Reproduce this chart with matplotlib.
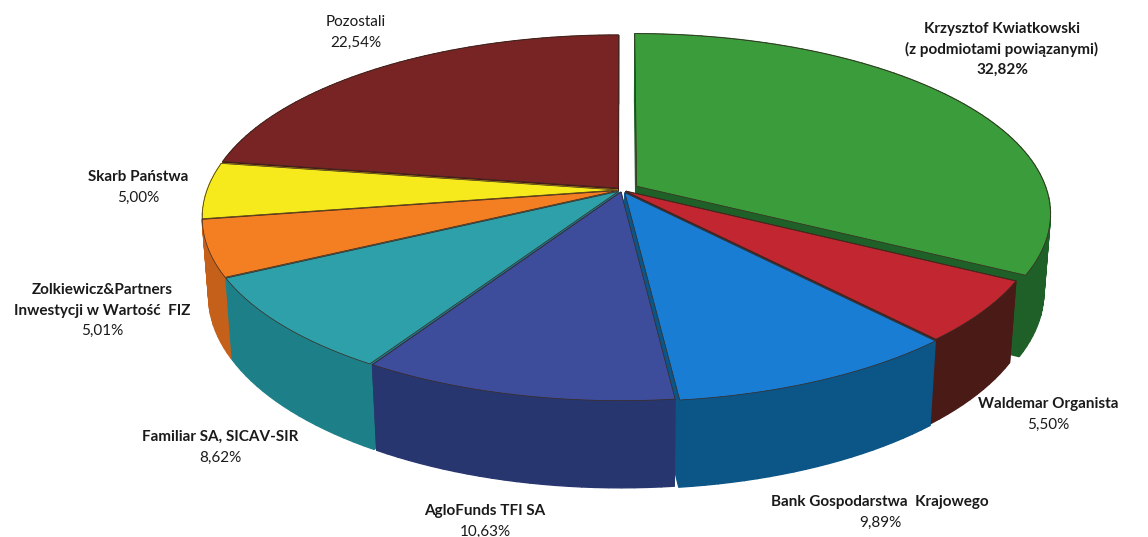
import matplotlib
matplotlib.use("Agg")
import matplotlib.pyplot as plt
import numpy as np
from matplotlib.patches import Polygon

# shareholder structure
names = [
    ["Krzysztof Kwiatkowski", "(z podmiotami powiązanymi)"],
    ["Waldemar Organista"],
    ["Bank Gospodarstwa  Krajowego"],
    ["AgloFunds TFI SA"],
    ["Familiar SA, SICAV-SIR"],
    ["Zolkiewicz&Partners", "Inwestycji w Wartość  FIZ"],
    ["Skarb Państwa"],
    ["Pozostali"],
]
shares = [32.82, 5.50, 9.89, 10.63, 8.62, 5.01, 5.00, 22.54]
pct_labels = ["32,82%", "5,50%", "9,89%", "10,63%", "8,62%", "5,01%", "5,00%", "22,54%"]

top_colors = ["#3b9c3b", "#c22630", "#1a7dd4", "#3d4d9c", "#2ea0aa", "#f47e22", "#f6ea1c", "#792424"]
side_colors = ["#1f5f28", "#4a1a17", "#0b5587", "#283670", "#1d8088", "#c5601a", "#c8b812", "#4e1616"]
explode = [0.042, 0.012, 0.017, 0.012, 0.012, 0.012, 0.012, 0.015]

# label placement: centre of first line in pixels (x, y from top)
label_pos = [(1002, 29), (1048, 404), (880, 502), (485, 511), (220, 437), (102, 290), (138, 177), (356, 22)]
name_bold = [True, True, True, True, True, True, True, False]
LINE_PX = 20.5

W, H = 1148, 537
CX, CY = 622, 190      # pie centre in pixels
SCALE = 410            # pixels per unit radius
ELEV = np.radians(25.5)
DIST = 6.0
DEPTH_H = 0.212


def proj(X, Y, Z):
    d = DIST + Y * np.cos(ELEV) - Z * np.sin(ELEV)
    sx = X * DIST / d
    sy = (Y * np.sin(ELEV) + Z * np.cos(ELEV)) * DIST / d
    return sx, sy, d


fig = plt.figure(figsize=(W / 100, H / 100), dpi=100)
ax = fig.add_axes([0, 0, 1, 1])
ax.set_xlim(-CX / SCALE, (W - CX) / SCALE)
ax.set_ylim(-(H - CY) / SCALE, CY / SCALE)
ax.axis("off")

fracs = np.array(shares) / sum(shares)
starts = 90 - 360 * np.concatenate([[0], np.cumsum(fracs)[:-1]])
ends = starts - 360 * fracs

walls = []
tops = []
for i in range(len(shares)):
    a0, a1 = np.radians(starts[i]), np.radians(ends[i])
    mid = (a0 + a1) / 2
    ox, oy = explode[i] * np.cos(mid), explode[i] * np.sin(mid)
    th = np.linspace(a0, a1, max(int(abs(a1 - a0) / np.radians(1.5)), 4))
    # top face
    xs = np.concatenate([[ox], ox + np.cos(th)])
    ys = np.concatenate([[oy], oy + np.sin(th)])
    px, py, _ = proj(xs, ys, 0 * xs)
    tops.append((np.column_stack([px, py]), top_colors[i]))
    # outer wall in small quads
    for j in range(len(th) - 1):
        X = ox + np.cos([th[j], th[j + 1], th[j + 1], th[j]])
        Y = oy + np.sin([th[j], th[j + 1], th[j + 1], th[j]])
        Z = np.array([0, 0, -DEPTH_H, -DEPTH_H])
        px, py, d = proj(X, Y, Z)
        walls.append((d.mean(), np.column_stack([px, py]), side_colors[i]))
    # radial walls
    for a in (a0, a1):
        X = np.array([ox, ox + np.cos(a), ox + np.cos(a), ox])
        Y = np.array([oy, oy + np.sin(a), oy + np.sin(a), oy])
        Z = np.array([0, 0, -DEPTH_H, -DEPTH_H])
        px, py, d = proj(X, Y, Z)
        walls.append((d.mean(), np.column_stack([px, py]), side_colors[i]))

walls.sort(key=lambda w: -w[0])
for _, pts, col in walls:
    ax.add_patch(Polygon(pts, closed=True, facecolor=col, edgecolor=col, lw=1.0))
for pts, col in tops:
    ax.add_patch(Polygon(pts, closed=True, facecolor=col, edgecolor="#3a2a20", lw=0.5))

font = "Lato"
for i in range(len(shares)):
    x = label_pos[i][0] / W
    y_px = label_pos[i][1]
    for k, line in enumerate(names[i]):
        ax.text(x, 1 - (y_px + k * LINE_PX) / H, line, transform=fig.transFigure,
                ha="center", va="center", fontsize=11, family=font,
                fontweight="bold" if name_bold[i] else "normal", color="#1a1a1a")
    ax.text(x, 1 - (y_px + len(names[i]) * LINE_PX) / H, pct_labels[i],
            transform=fig.transFigure, ha="center", va="center", fontsize=11,
            family=font, fontweight="bold" if i == 0 else "normal", color="#1a1a1a")

fig.savefig("out.png", dpi=100)
